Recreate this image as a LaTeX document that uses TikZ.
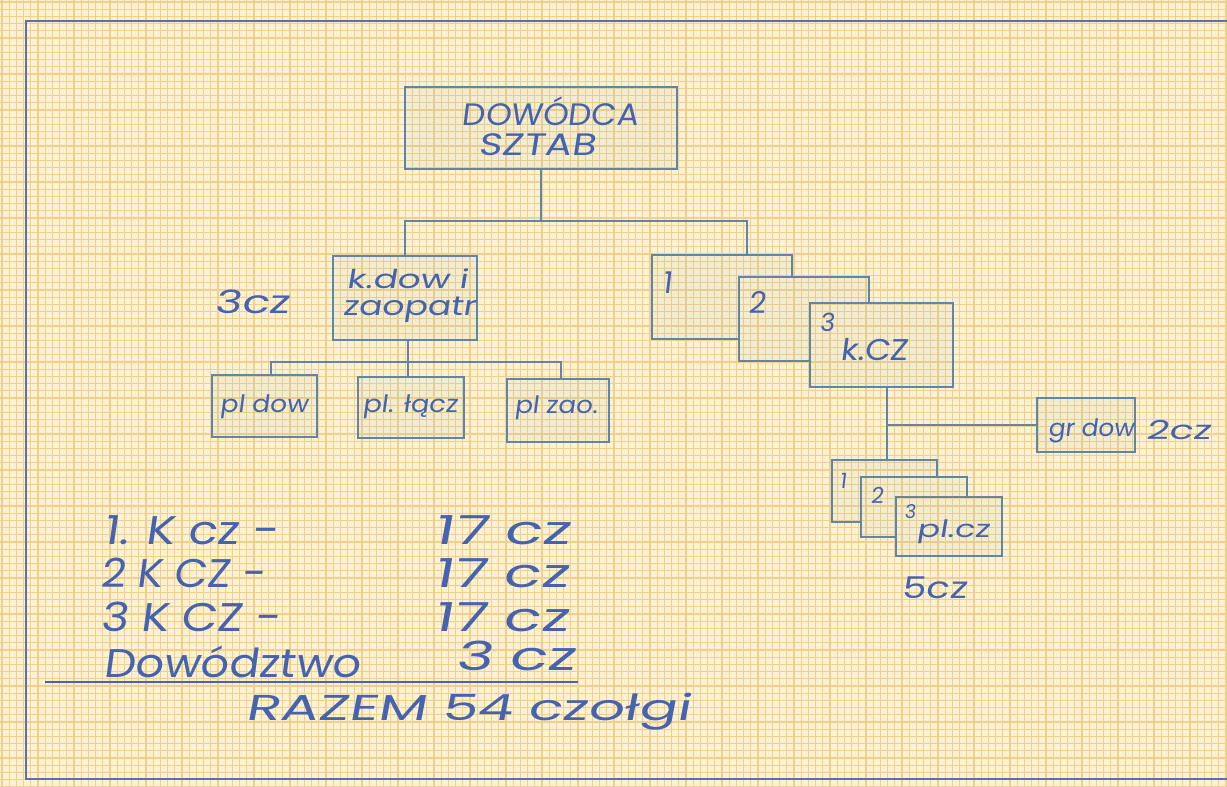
\documentclass[tikz,border=0pt]{standalone}
\usepackage{fontspec}
\newfontfamily\hand{Poppins}[FakeSlant=0.12]
\definecolor{paper}{HTML}{FCF2D3}
\definecolor{gridc}{HTML}{F0D08C}
\definecolor{ink}{HTML}{4563AE}
\definecolor{boxline}{HTML}{5F86A6}
\definecolor{framec}{HTML}{5B70AC}
\definecolor{shade}{HTML}{A9BCC6}
\newcommand\fw[2]{\resizebox{#1bp}{\height}{#2}}
\begin{document}
\begin{tikzpicture}[x=1bp,y=-1bp,
  box/.style={draw=boxline, line width=2.2bp, fill=shade, fill opacity=0.11, text opacity=1, inner sep=0, rectangle},
  ghost/.style={draw=none, inner sep=0, rectangle},
  conn/.style={draw=boxline, line width=2.2bp},
  hw/.style={text=ink, inner sep=0, font=\hand\fontsize{#1bp}{#1bp}\selectfont},
  backfill/.style={fill=shade, fill opacity=0.11}]
\useasboundingbox (0,0) rectangle (1227,787);
\fill[paper] (0,0) rectangle (1227,787);
\foreach \i in {0,...,171} \draw[gridc, line width=1.3bp] (\i*7.2+2,0) -- (\i*7.2+2,787);
\foreach \j in {0,...,110} \draw[gridc, line width=1.3bp] (0,\j*7.2+2) -- (1227,\j*7.2+2);
% frame
\draw[framec, line width=2.6bp] (1227,21) -- (26,21) -- (26,779) -- (1227,779);

% top box
\node[box, minimum width=272bp, minimum height=82bp] (top) at (541,128) {};
\node[hw=31] (tDow) at (550,111) {\fw{176}{DOWÓDCA}};
\node[hw=31] (tSzt) at (537,145) {\fw{117}{SZTAB}};

% k.dow i zaopatr
\node[box, minimum width=144bp, minimum height=84bp] (kdow) at (405,298) {};
\node[hw=26] (tK1) at (407,279) {\fw{121}{k.dow i}};
\node[hw=27] (tK2) at (409,310) {\fw{133}{zaopatr}};
\node[hw=32] (t3cz) at (252,302) {\fw{75}{3cz}};

% platoons under k.dow
\node[box, minimum width=105bp, minimum height=62bp] (pldow) at (264.5,406) {};
\node[box, minimum width=106bp, minimum height=61bp] (plIacz) at (411,407.5) {};
\node[box, minimum width=102bp, minimum height=63bp] (plzao) at (558,410.5) {};
\node[hw=24] (tP1) at (264,407) {\fw{88}{pl dow}};
\node[hw=24] (tP2) at (410,407) {\fw{95}{pl. łącz}};
\node[hw=24] (tP3) at (556,408) {\fw{83}{pl zao.}};

% tank companies stack
\node[ghost, minimum width=140bp, minimum height=84bp] (kc1) at (722,297) {};
\node[ghost, minimum width=130bp, minimum height=84bp] (kc2) at (804,319) {};
\node[box, minimum width=143bp, minimum height=84bp] (kc3) at (881.5,345) {};
\fill[backfill] (kc1.north west) -- (kc1.north east) -- (kc2.north -| kc1.east) -- (kc2.north west) -- (kc2.west |- kc1.south) -- (kc1.south west) -- cycle;
\fill[backfill] (kc2.north west) -- (kc2.north east) -- (kc3.north -| kc2.east) -- (kc3.north west) -- (kc3.west |- kc2.south) -- (kc2.south west) -- cycle;
\draw[conn] (kc2.north -| kc1.east) -- (kc1.north east) -- (kc1.north west) -- (kc1.south west) -- (kc2.west |- kc1.south);
\draw[conn] (kc3.north -| kc2.east) -- (kc2.north east) -- (kc2.north west) -- (kc2.south west) -- (kc3.west |- kc2.south);
\node[hw=30] (tC1) at (667,283) {1};
\node[hw=30] (tC2) at (757,302) {2};
\node[hw=25] (tC3) at (827,322) {3};
\node[hw=30] (tKcz) at (874,349) {\fw{68}{k.CZ}};

% command group
\node[box, minimum width=98bp, minimum height=54bp] (grdow) at (1086,425) {};
\node[hw=24] (tGr) at (1091,431) {\fw{86}{gr dow}};
\node[hw=26] (t2cz) at (1178,430) {\fw{65}{2cz}};

% tank platoons stack
\node[ghost, minimum width=105bp, minimum height=62bp] (pc1) at (884.5,491) {};
\node[ghost, minimum width=106bp, minimum height=60bp] (pc2) at (914,507) {};
\node[box, minimum width=106bp, minimum height=59bp] (pc3) at (949,526.5) {};
\fill[backfill] (pc1.north west) -- (pc1.north east) -- (pc2.north -| pc1.east) -- (pc2.north west) -- (pc2.west |- pc1.south) -- (pc1.south west) -- cycle;
\fill[backfill] (pc2.north west) -- (pc2.north east) -- (pc3.north -| pc2.east) -- (pc3.north west) -- (pc3.west |- pc2.south) -- (pc2.south west) -- cycle;
\draw[conn] (pc2.north -| pc1.east) -- (pc1.north east) -- (pc1.north west) -- (pc1.south west) -- (pc2.west |- pc1.south);
\draw[conn] (pc3.north -| pc2.east) -- (pc2.north east) -- (pc2.north west) -- (pc2.south west) -- (pc3.west |- pc2.south);
\node[hw=21] (tD1) at (843,481) {1};
\node[hw=22] (tD2) at (877,495) {2};
\node[hw=19] (tD3) at (910,512) {3};
\node[hw=24] (tPcz) at (953,532) {\fw{73}{pl.cz}};
\node[hw=30] (t5cz) at (934,588) {\fw{65}{5cz}};

% connectors
\coordinate (j1) at (541,221);
\coordinate (k1top) at (747,255);
\draw[conn] (top.south) -- (j1);
\draw[conn] (kdow.north) |- (j1);
\draw[conn] (j1) -| (k1top);
\coordinate (j2) at (408,362);
\coordinate (a1) at (271,375);
\coordinate (a3) at (561,379);
\draw[conn] (kdow.south -| j2) -- (j2);
\draw[conn] (a1) |- (j2) -| (a3);
\draw[conn] (j2) -- (plIacz.north -| j2);
\coordinate (j3) at (887,425);
\draw[conn] (kc3.south -| j3) -- (pc1.north -| j3);
\draw[conn] (j3) -- (grdow.west);

% summary table
\node[hw=40, anchor=west] (r1a) at (103,530) {\fw{175}{1. K cz -}};
\node[hw=40, anchor=west] (r2a) at (100,573) {\fw{165}{2 K CZ -}};
\node[hw=40, anchor=west] (r3a) at (100,617) {\fw{180}{3 K CZ -}};
\node[hw=40, anchor=west] (r4a) at (103,662) {\fw{257}{Dowództwo}};
\node[hw=40, anchor=west] (r1b) at (433,530) {\fw{137}{17 cz}};
\node[hw=40, anchor=west] (r2b) at (433,573) {\fw{135}{17 cz}};
\node[hw=40, anchor=west] (r3b) at (433,617) {\fw{135}{17 cz}};
\node[hw=40, anchor=west] (r4b) at (455,656) {\fw{120}{3 cz}};
\coordinate (s1) at (45,682);
\coordinate (s2) at (578,682);
\draw[ink, line width=2.2bp] (s1) -- (s2);
\node[hw=36, anchor=west] (tot) at (245,712) {\fw{445}{RAZEM 54 czołgi}};
\end{tikzpicture}
\end{document}
